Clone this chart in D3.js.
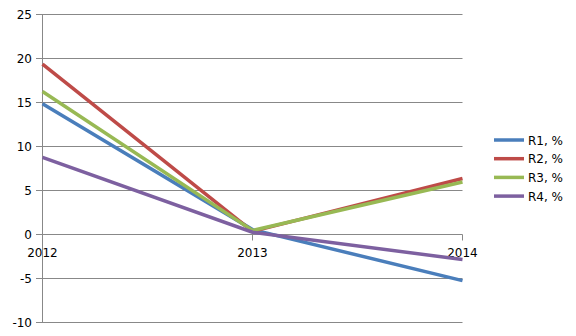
<!DOCTYPE html>
<html>
<head>
<meta charset="utf-8">
<script src="https://cdnjs.cloudflare.com/ajax/libs/d3/7.8.5/d3.min.js"></script>
<style>
body{margin:0;background:#fff;}
text{font-family:"DejaVu Sans",sans-serif;font-size:12px;fill:#000;}
</style>
</head>
<body>
<div id="plot"></div>
<script>
//data
var years = ['2012','2013','2014'];
var seriesNames = ['R1, %','R2, %','R3, %','R4, %'];
var r1 = [14.8, 0.5, -5.3];
var r2 = [19.3, 0.3, 6.3];
var r3 = [16.2, 0.4, 5.9];
var r4 = [8.7, 0.2, -2.9];
var yTicks = [-10,-5,0,5,10,15,20,25];
var colors = ['#4a7ebb','#be4b48','#98b954','#7d60a0'];

var allSeries = [r1,r2,r3,r4];

var svg = d3.select('#plot')
	.append('svg')
	.attr('width',576)
	.attr('height',336);

var x = d3.scalePoint().domain(years).range([42.5,462.5]);
var y = d3.scaleLinear().domain([-10,25]).range([322,14]);

//horizontal gridlines + left ticks
svg.append('g')
	.selectAll('line')
	.data(yTicks)
	.enter()
	.append('line')
	.attr('x1',36)
	.attr('x2',462.5)
	.attr('y1',function(d){return Math.round(y(d))+0.5;})
	.attr('y2',function(d){return Math.round(y(d))+0.5;})
	.attr('stroke','#888')
	.attr('stroke-width',1);

svg.append('g')
	.selectAll('text')
	.data(yTicks)
	.enter()
	.append('text')
	.attr('x',32)
	.attr('y',function(d){return y(d)+4.5;})
	.attr('text-anchor','end')
	.text(function(d){return d;});

//vertical axis
svg.append('line')
	.attr('x1',42.5).attr('x2',42.5)
	.attr('y1',14).attr('y2',322)
	.attr('stroke','#888');

//category axis sits on zero
var y0 = Math.round(y(0))+0.5;
svg.append('g')
	.selectAll('line')
	.data(years)
	.enter()
	.append('line')
	.attr('x1',function(d){return x(d);})
	.attr('x2',function(d){return x(d);})
	.attr('y1',y0)
	.attr('y2',y0+6)
	.attr('stroke','#888');

svg.append('g')
	.selectAll('text')
	.data(years)
	.enter()
	.append('text')
	.attr('x',function(d){return x(d);})
	.attr('y',y0+22)
	.attr('text-anchor','middle')
	.text(function(d){return d;});

var line = d3.line()
	.x(function(d,i){return x(years[i]);})
	.y(function(d){return y(d);});

allSeries.forEach(function(s,i){
	svg.append('path')
		.attr('d',line(s))
		.attr('fill','none')
		.attr('stroke',colors[i])
		.attr('stroke-width',3.5);
});

//legend
var legend = svg.append('g');
seriesNames.forEach(function(name,i){
	var ly = 140 + i*18.7;
	legend.append('line')
		.attr('x1',494).attr('x2',524)
		.attr('y1',ly).attr('y2',ly)
		.attr('stroke',colors[i])
		.attr('stroke-width',3.5);
	legend.append('text')
		.attr('x',528)
		.attr('y',ly+4.5)
		.text(name);
});
</script>
</body>
</html>
